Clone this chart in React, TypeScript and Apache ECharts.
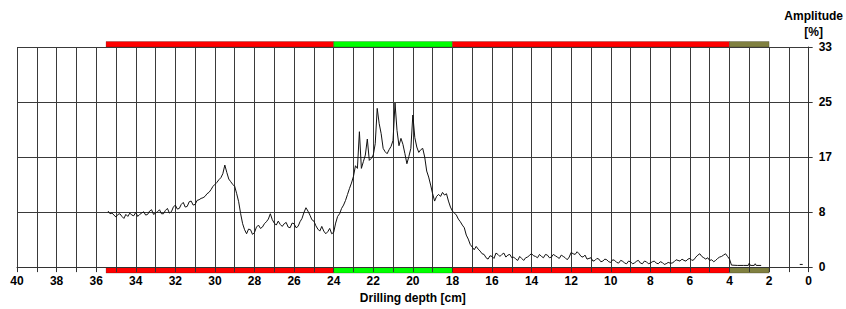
import React, { useEffect, useRef } from "react";
import * as echarts from "echarts";

// Depth axis (cm), amplitude axis (%)
const DEPTH_MIN = 0;
const DEPTH_MAX = 40;
const AMP_MIN = 0;
const AMP_MAX = 33;
const AMP_TICKS = [0, 8.25, 16.5, 24.75, 33];

// Trace: [depth cm, amplitude %]
const TRACE_START: [number, number][] = [
  [35.4, 8.4], [35.3, 8.0], [35.2, 8.1], [35.1, 7.8], [35.0, 7.5], [34.9, 7.9], [34.8, 8.0], [34.7, 7.6],
  [34.6, 7.3], [34.5, 7.9], [34.4, 7.6], [34.3, 8.1], [34.2, 7.8], [34.1, 7.7], [34.0, 8.2], [33.9, 7.6],
  [33.8, 7.9], [33.7, 8.1], [33.6, 8.3], [33.5, 7.8], [33.4, 7.9], [33.3, 8.4], [33.2, 8.6], [33.1, 7.9],
  [33.0, 8.1], [32.9, 8.3], [32.8, 8.6], [32.7, 8.0], [32.6, 8.0], [32.5, 8.5], [32.4, 8.8], [32.3, 8.1],
  [32.2, 8.3], [32.1, 9.0], [32.0, 9.3], [31.9, 8.7], [31.8, 8.8], [31.7, 9.4], [31.6, 9.7], [31.5, 9.0],
  [31.4, 9.1], [31.3, 9.8], [31.2, 9.9], [31.1, 9.3], [31.0, 9.4], [30.9, 10.0], [30.8, 10.1],
  [30.7, 10.3], [30.6, 10.4], [30.5, 10.6], [30.4, 11.0], [30.3, 11.2], [30.2, 11.6], [30.1, 12.1],
  [30.0, 12.4], [29.9, 12.7], [29.8, 13.1], [29.7, 13.4], [29.6, 14.0], [29.5, 15.3], [29.4, 14.2],
  [29.3, 13.2], [29.2, 12.8], [29.1, 12.4], [29.0, 12.1], [28.9, 11.0], [28.8, 9.8], [28.7, 8.0],
  [28.6, 6.5], [28.5, 5.6], [28.4, 5.0], [28.3, 5.7], [28.2, 5.6], [28.1, 4.9], [28.0, 5.2], [27.9, 6.0],
  [27.8, 6.3], [27.7, 5.8], [27.6, 6.0], [27.5, 6.5], [27.4, 6.8], [27.3, 7.2], [27.2, 8.0], [27.1, 7.1],
  [27.0, 6.6], [26.9, 6.3], [26.8, 6.9], [26.7, 6.4], [26.6, 6.1], [26.5, 6.5], [26.4, 6.7], [26.3, 6.0],
  [26.2, 5.9], [26.1, 6.6], [26.0, 6.5], [25.9, 5.9], [25.8, 6.1], [25.7, 6.8], [25.6, 7.3], [25.5, 8.2],
  [25.4, 8.9], [25.3, 8.4], [25.2, 7.8], [25.1, 7.1], [25.0, 6.9], [24.9, 6.2], [24.8, 5.7], [24.7, 5.4],
  [24.6, 6.1], [24.5, 5.4], [24.4, 5.0], [24.3, 5.3], [24.2, 5.8], [24.1, 5.0], [24.0, 5.2], [23.9, 6.6],
  [23.8, 7.6], [23.7, 8.0], [23.6, 8.8], [23.5, 9.3], [23.4, 10.0], [23.3, 10.9], [23.2, 11.8],
  [23.1, 12.6],
];

const TRACE_PEAK: [number, number][] = [
  [23.0, 13.6], [22.9, 15.2], [22.8, 14.8], [22.7, 20.3], [22.6, 14.8], [22.5, 15.8], [22.4, 16.8],
  [22.3, 19.2], [22.2, 16.0], [22.1, 16.3], [22.0, 16.8], [21.9, 18.5], [21.8, 23.8], [21.7, 21.5],
  [21.6, 20.0], [21.5, 17.8], [21.4, 17.3], [21.3, 17.0], [21.2, 17.6], [21.1, 18.1], [21.0, 19.0],
  [20.9, 24.6], [20.8, 20.5], [20.7, 18.2], [20.6, 19.3], [20.5, 18.4], [20.4, 17.0], [20.3, 15.5],
  [20.2, 16.6], [20.1, 17.8], [20.0, 22.8], [19.9, 19.4], [19.8, 18.0], [19.7, 17.2], [19.6, 17.6],
  [19.5, 17.8], [19.4, 16.5], [19.3, 14.4], [19.2, 13.5], [19.1, 12.3], [19.0, 11.0], [18.9, 9.9],
  [18.8, 10.6], [18.7, 10.9], [18.6, 10.6], [18.5, 11.2], [18.4, 10.8], [18.3, 11.0], [18.2, 9.9],
  [18.1, 9.0],
];

const TRACE_DECAY: [number, number][] = [
  [18.0, 8.4], [17.9, 8.1], [17.8, 7.8], [17.7, 7.2], [17.6, 6.8], [17.5, 6.3], [17.4, 5.9], [17.3, 4.8],
  [17.2, 4.2], [17.1, 3.4], [17.0, 3.0], [16.9, 2.6], [16.8, 3.1], [16.7, 2.7], [16.6, 2.4], [16.5, 2.0],
  [16.4, 1.9], [16.3, 1.4], [16.2, 1.2], [16.1, 1.7], [16.0, 1.6], [15.9, 1.3], [15.8, 2.1], [15.7, 1.9],
  [15.6, 1.6], [15.5, 1.9], [15.4, 2.1], [15.3, 1.5], [15.2, 1.8], [15.1, 1.9], [15.0, 1.4], [14.9, 1.5],
  [14.8, 1.2], [14.7, 1.0], [14.6, 1.6], [14.5, 1.3], [14.4, 1.0], [14.3, 1.4], [14.2, 1.5], [14.1, 1.8],
  [14.0, 2.0], [13.9, 1.7], [13.8, 1.6], [13.7, 1.4], [13.6, 1.9], [13.5, 1.6], [13.4, 1.4], [13.3, 1.9],
  [13.2, 1.8], [13.1, 1.4], [13.0, 1.5], [12.9, 1.9], [12.8, 1.7], [12.7, 1.5], [12.6, 1.3], [12.5, 1.8],
  [12.4, 1.6], [12.3, 1.4], [12.2, 1.1], [12.1, 1.5], [12.0, 2.2], [11.9, 2.0], [11.8, 1.9], [11.7, 2.3],
  [11.6, 2.0], [11.5, 1.6], [11.4, 1.5], [11.3, 1.8], [11.2, 1.2], [11.1, 1.3], [11.0, 1.4], [10.9, 0.9],
  [10.8, 1.0], [10.7, 1.3], [10.6, 1.2], [10.5, 0.8], [10.4, 0.9], [10.3, 1.2], [10.2, 1.1], [10.1, 0.8],
  [10.0, 0.7], [9.9, 1.1], [9.8, 1.0], [9.7, 0.7], [9.6, 0.6], [9.5, 1.0], [9.4, 0.9], [9.3, 0.6],
  [9.2, 0.5], [9.1, 0.9], [9.0, 0.8], [8.9, 0.5], [8.8, 0.6], [8.7, 0.9], [8.6, 1.0], [8.5, 0.6],
  [8.4, 0.5], [8.3, 0.9], [8.2, 0.8], [8.1, 0.5], [8.0, 0.6], [7.9, 0.8], [7.8, 0.9], [7.7, 0.6],
  [7.6, 0.5], [7.5, 0.8], [7.4, 0.7], [7.3, 0.4], [7.2, 0.5], [7.1, 0.7], [7.0, 0.6], [6.9, 0.6],
  [6.8, 0.8], [6.7, 1.1], [6.6, 1.0], [6.5, 0.9], [6.4, 1.2], [6.3, 1.0], [6.2, 0.9], [6.1, 1.2],
  [6.0, 1.3], [5.9, 1.0], [5.8, 1.1], [5.7, 1.5], [5.6, 1.8], [5.5, 2.0], [5.4, 1.6], [5.3, 1.4],
  [5.2, 1.2], [5.1, 1.4], [5.0, 1.0], [4.9, 1.1], [4.8, 0.8], [4.7, 1.0], [4.6, 1.3], [4.5, 1.5],
  [4.4, 1.6], [4.3, 1.8], [4.2, 2.0], [4.1, 1.6], [4.0, 1.2],
];

const TRACE_END: [number, number][] = [
  [3.9, 0.3], [3.6, 0.25], [3.3, 0.25], [3.05, 0.25], [3.0, 0.6], [2.95, 0.25], [2.75, 0.25],
  [2.7, 0.5], [2.65, 0.25], [2.4, 0.25],
];

const TRACE_DOT: [number, number][] = [
  [0.45, 0.4], [0.3, 0.4],
];

// Quality segments along depth
const SEGMENT_FROM = [35.5, 24, 18, 4];
const SEGMENT_TO = [24, 18, 4, 2];
const SEGMENT_CLASS = ["bad", "good", "bad", "none"];

const CLASS_COLORS: Record<string, string> = {
  bad: "#ff0000",
  good: "#00ff00",
  none: "#808040",
};

const FONT = "Liberation Sans, Arial, sans-serif";

export default function App() {
  const ref = useRef<HTMLDivElement>(null);

  useEffect(() => {
    if (!ref.current) return;
    const chart = echarts.init(ref.current, undefined, { renderer: "svg" });

    const traceData: (number | null)[][] = [
      ...TRACE_START,
      ...TRACE_PEAK,
      ...TRACE_DECAY,
      ...TRACE_END,
      [1.5, null] as any,
      ...TRACE_DOT,
    ];

    const segData = SEGMENT_FROM.map((f, i) => [f, SEGMENT_TO[i], i]);

    chart.setOption({
      animation: false,
      grid: { left: 17, right: 35, top: 47, bottom: 30, containLabel: false },
      xAxis: {
        type: "value",
        inverse: true,
        min: DEPTH_MIN,
        max: DEPTH_MAX,
        interval: 2,
        z: 3,
        name: "Drilling depth [cm]",
        nameLocation: "middle",
        nameGap: 24,
        nameTextStyle: { fontFamily: FONT, fontWeight: "bold", fontSize: 12, color: "#000" },
        axisLine: { show: true, onZero: false, lineStyle: { color: "#333", width: 1 } },
        axisTick: { show: true, length: 5, lineStyle: { color: "#333" } },
        minorTick: { show: true, splitNumber: 2, length: 5, lineStyle: { color: "#333" } },
        splitLine: { show: true, lineStyle: { color: "#3a3a3a", width: 1 } },
        minorSplitLine: { show: true, lineStyle: { color: "#3a3a3a", width: 1 } },
        axisLabel: {
          margin: 8,
          fontFamily: FONT,
          fontWeight: "bold",
          fontSize: 12,
          color: "#000",
          formatter: (v: number) => String(v),
        },
      },
      yAxis: {
        type: "value",
        position: "right",
        min: AMP_MIN,
        max: AMP_MAX,
        interval: AMP_TICKS[1],
        z: 3,
        name: "Amplitude\n[%]",
        nameLocation: "end",
        nameGap: 7,
        nameTextStyle: {
          fontFamily: FONT,
          fontWeight: "bold",
          fontSize: 12,
          color: "#000",
          align: "center",
          lineHeight: 16,
          padding: [0, 0, 0, 10],
        },
        axisLine: { show: true, lineStyle: { color: "#333", width: 1 } },
        axisTick: { show: true, length: 4, lineStyle: { color: "#333" } },
        splitLine: { show: true, lineStyle: { color: "#3a3a3a", width: 1 } },
        axisLabel: {
          margin: 10,
          fontFamily: FONT,
          fontWeight: "bold",
          fontSize: 12,
          color: "#000",
          formatter: (v: number) => String(Math.round(v)),
        },
      },
      series: [
        {
          type: "custom",
          z: 1,
          clip: false,
          encode: { x: [0, 1] },
          data: segData,
          renderItem: (params: any, api: any) => {
            const from = api.value(0);
            const to = api.value(1);
            const idx = api.value(2);
            const color = CLASS_COLORS[SEGMENT_CLASS[idx]];
            const pTop1 = api.coord([from, AMP_MAX]);
            const pTop2 = api.coord([to, AMP_MAX]);
            const pBot1 = api.coord([from, AMP_MIN]);
            const x = Math.min(pTop1[0], pTop2[0]);
            const w = Math.abs(pTop2[0] - pTop1[0]);
            return {
              type: "group",
              children: [
                {
                  type: "rect",
                  shape: { x, y: pTop1[1] - 5.5, width: w, height: 5.5 },
                  style: { fill: color, stroke: "rgba(0,0,0,0.35)", lineWidth: 0.6 },
                },
                {
                  type: "rect",
                  shape: { x, y: pBot1[1] + 0.5, width: w, height: 5.5 },
                  style: { fill: color, stroke: "rgba(0,0,0,0.35)", lineWidth: 0.6 },
                },
              ],
            };
          },
        },
        {
          type: "line",
          z: 4,
          data: traceData,
          symbol: "none",
          connectNulls: false,
          lineStyle: { color: "#111", width: 1 },
        },
      ],
    });

    return () => chart.dispose();
  }, []);

  return (
    <div
      ref={ref}
      style={{ position: "fixed", left: 0, top: 0, width: 846, height: 309, background: "#fff" }}
    />
  );
}
